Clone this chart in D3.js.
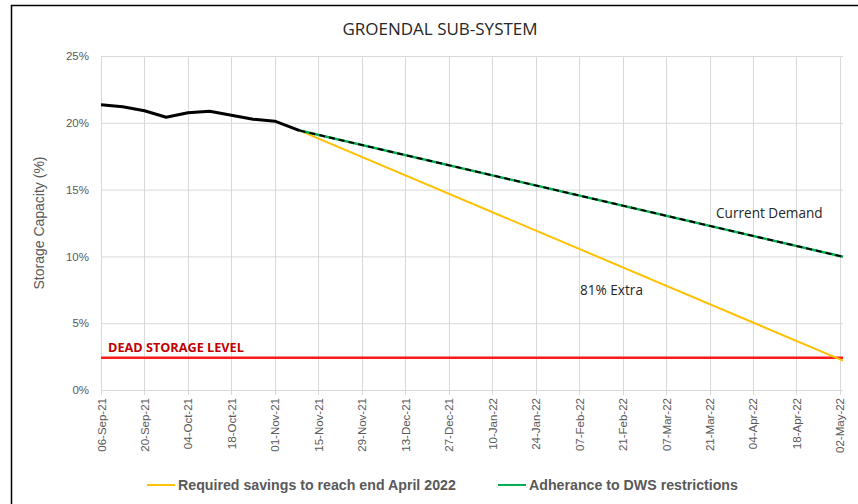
<!DOCTYPE html>
<html>
<head>
<meta charset="utf-8">
<script src="https://cdn.jsdelivr.net/npm/d3@7"></script>
<style>
  body { margin: 0; background: #fff; }
  svg { display: block; }
</style>
</head>
<body>
<svg id="chart"></svg>
<script>
// observed storage levels (weekly)
const actualDates = ['06-Sep-21', '13-Sep-21', '20-Sep-21', '27-Sep-21', '04-Oct-21',
  '11-Oct-21', '18-Oct-21', '25-Oct-21', '01-Nov-21', '09-Nov-21'];
const actualValues = [21.35, 21.2, 20.9, 20.42, 20.75, 20.86, 20.56, 20.27, 20.12, 19.42];

// projections from the last observation
const projectionDates = ['09-Nov-21', '03-May-22'];
const currentDemand = [19.42, 9.97];
const requiredSavings = [19.42, 2.2];

const deadStorage = 2.42;

const tickDates = ['06-Sep-21', '20-Sep-21', '04-Oct-21', '18-Oct-21', '01-Nov-21',
  '15-Nov-21', '29-Nov-21', '13-Dec-21', '27-Dec-21', '10-Jan-22', '24-Jan-22',
  '07-Feb-22', '21-Feb-22', '07-Mar-22', '21-Mar-22', '04-Apr-22', '18-Apr-22', '02-May-22'];
const yTicks = [0, 5, 10, 15, 20, 25];

const dim = { width: 858, height: 504, left: 101, right: 843, top: 56, bottom: 390 };
const parse = d3.timeParse('%d-%b-%y');
const fmt = d3.timeFormat('%d-%b-%y');

const svg = d3.select('#chart')
  .attr('width', dim.width)
  .attr('height', dim.height);

// outer frame
svg.append('rect')
  .attr('x', 11.5).attr('y', 5.5)
  .attr('width', 900).attr('height', 600)
  .attr('fill', 'none')
  .attr('stroke', '#000')
  .attr('stroke-width', 1.5);

const x = d3.scaleTime()
  .domain([parse('06-Sep-21'), parse('03-May-22')])
  .range([dim.left, dim.right]);

const y = d3.scaleLinear()
  .domain([0, 25])
  .range([dim.bottom, dim.top]);

// gridlines
svg.append('g')
  .selectAll('line.h')
  .data(yTicks)
  .join('line')
  .attr('x1', dim.left).attr('x2', dim.right)
  .attr('y1', d => y(d) + 0.5).attr('y2', d => y(d) + 0.5)
  .attr('stroke', '#d9d9d9');

const ticks = tickDates.map(parse);

svg.append('g')
  .selectAll('line')
  .data(ticks)
  .join('line')
  .attr('x1', d => Math.round(x(d)) + 0.5).attr('x2', d => Math.round(x(d)) + 0.5)
  .attr('y1', dim.top).attr('y2', dim.bottom + 5)
  .attr('stroke', '#d9d9d9');

// y axis labels
const yAxis = svg.append('g')
  .attr('transform', `translate(${dim.left - 9},0)`)
  .call(d3.axisLeft(y).tickValues(yTicks).tickSize(0).tickFormat(d => d + '%'));
yAxis.select('.domain').remove();
yAxis.selectAll('text')
  .attr('font-family', 'Liberation Sans, Arial, sans-serif')
  .attr('font-size', 11.5)
  .attr('fill', '#595959');

// x axis labels
const xAxis = svg.append('g')
  .attr('transform', `translate(0,${dim.bottom})`)
  .call(d3.axisBottom(x).tickValues(ticks).tickSize(0).tickFormat(fmt));
xAxis.select('.domain').remove();
xAxis.selectAll('text')
  .attr('font-family', 'Liberation Sans, Arial, sans-serif')
  .attr('font-size', 11.5)
  .attr('fill', '#595959')
  .attr('transform', 'rotate(-90)')
  .attr('text-anchor', 'end')
  .attr('x', -8)
  .attr('y', 0)
  .attr('dy', '0.35em');

// y axis title
svg.append('text')
  .attr('transform', `translate(44,${(dim.top + dim.bottom) / 2}) rotate(-90)`)
  .attr('text-anchor', 'middle')
  .attr('font-family', 'Liberation Sans, Arial, sans-serif')
  .attr('font-size', 14)
  .attr('fill', '#595959')
  .text('Storage Capacity (%)');

// chart title
svg.append('text')
  .attr('x', 440).attr('y', 35)
  .attr('text-anchor', 'middle')
  .attr('font-family', 'Open Sans, sans-serif')
  .attr('font-size', 17)
  .attr('fill', '#262626')
  .text('GROENDAL SUB-SYSTEM');

const line = d3.line()
  .x(d => x(d[0]))
  .y(d => y(d[1]));

const projDates = projectionDates.map(parse);

// dead storage level
svg.append('line')
  .attr('x1', dim.left).attr('x2', dim.right)
  .attr('y1', y(deadStorage)).attr('y2', y(deadStorage))
  .attr('stroke', '#ff1a1a')
  .attr('stroke-width', 2.5);

svg.append('text')
  .attr('x', 108).attr('y', y(deadStorage) - 6)
  .attr('font-family', 'Open Sans, sans-serif')
  .attr('font-weight', 'bold')
  .attr('font-size', 12.7)
  .attr('fill', '#c00000')
  .text('DEAD STORAGE LEVEL');

// required savings
svg.append('path')
  .datum(projDates.map((d, i) => [d, requiredSavings[i]]))
  .attr('d', line)
  .attr('fill', 'none')
  .attr('stroke', '#ffc000')
  .attr('stroke-width', 2);

// current demand: green with black dashes
const demandData = projDates.map((d, i) => [d, currentDemand[i]]);
svg.append('path')
  .datum(demandData)
  .attr('d', line)
  .attr('fill', 'none')
  .attr('stroke', '#00b050')
  .attr('stroke-width', 2.5);
svg.append('path')
  .datum(demandData)
  .attr('d', line)
  .attr('fill', 'none')
  .attr('stroke', '#000')
  .attr('stroke-width', 2)
  .attr('stroke-dasharray', '6,4');

// actual levels
svg.append('path')
  .datum(actualDates.map((d, i) => [parse(d), actualValues[i]]))
  .attr('d', line)
  .attr('fill', 'none')
  .attr('stroke', '#000')
  .attr('stroke-width', 3)
  .attr('stroke-linejoin', 'round');

// annotations
svg.append('text')
  .attr('x', 716).attr('y', 218)
  .attr('font-family', 'Open Sans, sans-serif')
  .attr('font-size', 13.6)
  .attr('fill', '#262626')
  .text('Current Demand');

svg.append('text')
  .attr('x', 580).attr('y', 295)
  .attr('font-family', 'Open Sans, sans-serif')
  .attr('font-size', 13.6)
  .attr('fill', '#262626')
  .text('81% Extra');

// legend
const legendItems = [
  { label: 'Required savings to reach end April 2022', color: '#ffc000', x: 147 },
  { label: 'Adherance to DWS restrictions', color: '#00b050', x: 498 }
];
const legend = svg.append('g');
legendItems.forEach(item => {
  legend.append('line')
    .attr('x1', item.x).attr('x2', item.x + 28)
    .attr('y1', 485).attr('y2', 485)
    .attr('stroke', item.color)
    .attr('stroke-width', 2);
  legend.append('text')
    .attr('x', item.x + 31).attr('y', 490)
    .attr('font-family', 'Liberation Sans, Arial, sans-serif')
    .attr('font-weight', 'bold')
    .attr('font-size', 14.2)
    .attr('fill', '#595959')
    .text(item.label);
});
</script>
</body>
</html>
